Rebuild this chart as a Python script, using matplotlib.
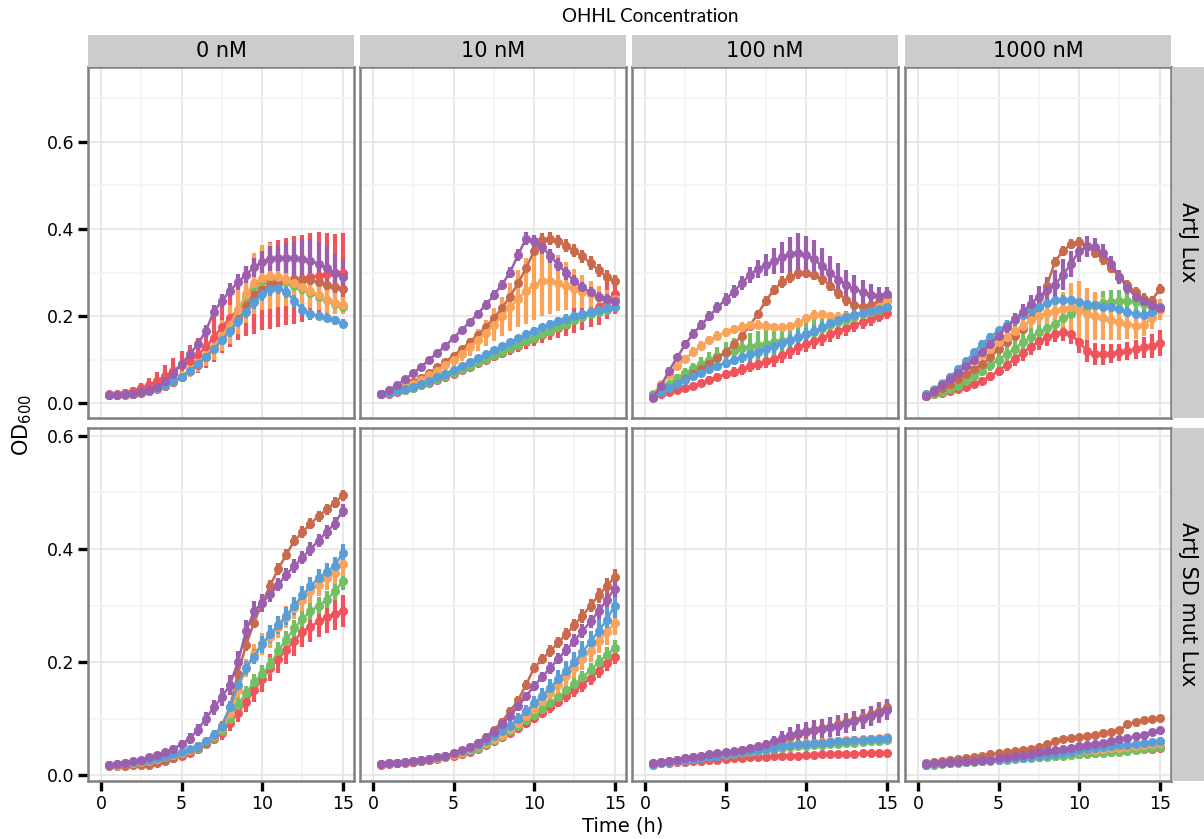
import numpy as np
import matplotlib.pyplot as plt

plt.rcParams['font.family'] = ['DejaVu Sans']
plt.rcParams['mathtext.default'] = 'regular'

# -----------------------------
# Data: OD600 read every 30 min, mean and error (error in 1/1000 OD)
# -----------------------------

time_h = np.arange(0.5, 15.01, 0.5)

conc_labels = ["0 nM", "10 nM", "100 nM", "1000 nM"]
strain_labels = ["ArtJ Lux", "ArtJ SD mut Lux"]

colours = {
    "red": "#EF535B",
    "brown": "#C96A4C",
    "orange": "#FAA45A",
    "green": "#73BF63",
    "blue": "#5A9ED8",
    "purple": "#9B5FAE",
}
draw_order = ["red", "green", "brown", "orange", "blue", "purple"]

# ArtJ Lux
lux_0nM = dict(
    red=[.020, .021, .024, .028, .034, .042, .052, .063, .075, .087, .098, .11, .13, .15, .175, .195, .215, .235, .25, .262, .27, .275, .28, .283, .286, .29, .293, .296, .298, .30],
    brown=[.018, .018, .019, .021, .024, .028, .033, .040, .049, .060, .073, .088, .106, .126, .148, .172, .196, .22, .242, .26, .272, .28, .284, .285, .284, .282, .278, .272, .266, .262],
    orange=[.018, .019, .020, .022, .025, .029, .034, .041, .050, .062, .076, .092, .11, .13, .155, .18, .215, .25, .275, .288, .292, .29, .284, .275, .266, .258, .248, .238, .23, .225],
    green=[.018, .019, .020, .022, .025, .029, .034, .040, .049, .060, .074, .090, .108, .128, .152, .177, .21, .243, .268, .28, .285, .283, .278, .27, .262, .254, .245, .236, .228, .222],
    blue=[.018, .019, .020, .022, .025, .029, .034, .041, .050, .061, .074, .089, .106, .125, .145, .166, .188, .21, .232, .25, .262, .265, .255, .235, .215, .205, .200, .196, .19, .183],
    purple=[.018, .019, .020, .022, .025, .030, .038, .050, .068, .090, .112, .135, .165, .21, .235, .258, .278, .295, .312, .325, .332, .334, .334, .333, .331, .327, .320, .310, .298, .290],
)
lux_0nM_err = dict(
    red=[5, 6, 8, 10, 13, 16, 20, 24, 28, 32, 35, 40, 50, 55, 60, 65, 70, 80, 90, 95, 100, 100, 100, 100, 100, 100, 100, 95, 90, 90],
    brown=[3, 3, 3, 4, 4, 5, 5, 6, 6, 7, 8, 9, 10, 11, 12, 13, 14, 15, 15, 16, 16, 16, 16, 16, 16, 16, 16, 16, 16, 16],
    orange=[3, 3, 4, 4, 5, 6, 7, 8, 10, 12, 15, 20, 25, 30, 35, 45, 55, 65, 70, 75, 75, 70, 60, 50, 45, 40, 35, 30, 25, 20],
    green=[3, 3, 3, 4, 4, 5, 5, 6, 6, 7, 8, 9, 10, 10, 10, 10, 10, 10, 10, 10, 10, 10, 10, 10, 10, 10, 10, 10, 10, 10],
    blue=[3, 3, 3, 4, 4, 5, 5, 6, 6, 7, 8, 9, 10, 11, 12, 13, 14, 15, 15, 15, 15, 15, 14, 13, 12, 11, 10, 10, 10, 10],
    purple=[4, 4, 4, 5, 5, 6, 6, 7, 8, 9, 10, 12, 13, 15, 15, 17, 18, 20, 22, 25, 28, 30, 35, 40, 45, 50, 50, 50, 45, 40],
)

lux_10nM = dict(
    red=[.02, .022, .026, .03, .035, .041, .047, .054, .061, .068, .076, .084, .092, .1, .108, .116, .124, .132, .14, .148, .156, .164, .172, .18, .19, .2, .21, .22, .235, .25],
    brown=[.02, .025, .032, .04, .049, .059, .07, .082, .095, .109, .124, .14, .157, .175, .195, .218, .245, .275, .31, .35, .375, .378, .372, .362, .35, .337, .322, .305, .29, .28],
    orange=[.02, .024, .03, .037, .045, .054, .064, .075, .087, .1, .114, .129, .145, .162, .18, .2, .22, .24, .258, .272, .28, .28, .276, .27, .263, .256, .25, .245, .24, .24],
    green=[.02, .023, .027, .031, .036, .042, .048, .055, .062, .07, .078, .086, .094, .102, .11, .118, .126, .134, .142, .15, .158, .166, .174, .182, .19, .197, .204, .21, .215, .22],
    blue=[.02, .023, .027, .032, .038, .045, .052, .06, .068, .077, .086, .095, .104, .113, .122, .131, .14, .149, .158, .166, .174, .181, .188, .194, .2, .205, .21, .214, .218, .222],
    purple=[.02, .03, .042, .055, .069, .084, .1, .116, .132, .15, .168, .186, .205, .226, .248, .272, .3, .34, .378, .372, .358, .338, .318, .298, .28, .266, .255, .245, .24, .235],
)
lux_10nM_err = dict(
    red=[3, 3, 4, 4, 5, 5, 6, 6, 7, 7, 8, 8, 9, 10, 11, 12, 13, 14, 15, 16, 18, 20, 22, 25, 28, 32, 36, 40, 42, 45],
    brown=[3, 3, 3, 4, 4, 5, 5, 6, 6, 7, 7, 8, 8, 9, 9, 10, 11, 12, 13, 14, 15, 15, 15, 15, 15, 15, 15, 15, 15, 15],
    orange=[3, 3, 4, 5, 6, 7, 8, 10, 12, 14, 17, 20, 25, 30, 38, 45, 55, 65, 75, 80, 80, 75, 65, 55, 45, 38, 30, 25, 20, 18],
    green=[3, 3, 3, 4, 4, 4, 5, 5, 5, 6, 6, 6, 7, 7, 7, 8, 8, 8, 9, 9, 9, 10, 10, 10, 10, 10, 10, 10, 10, 10],
    blue=[3, 3, 3, 4, 4, 4, 5, 5, 5, 6, 6, 6, 7, 7, 7, 8, 8, 8, 9, 9, 9, 10, 10, 10, 10, 10, 10, 10, 10, 10],
    purple=[3, 3, 4, 4, 5, 5, 6, 6, 7, 7, 8, 8, 9, 10, 11, 12, 13, 14, 15, 15, 15, 15, 15, 15, 14, 13, 12, 11, 10, 10],
)

lux_100nM = dict(
    red=[.015, .02, .025, .03, .035, .04, .046, .053, .06, .066, .072, .078, .085, .091, .096, .101, .11, .12, .128, .135, .142, .15, .159, .166, .173, .18, .186, .193, .2, .207],
    brown=[.015, .025, .035, .045, .055, .066, .078, .09, .103, .118, .135, .155, .178, .205, .235, .26, .278, .29, .298, .3, .295, .285, .27, .252, .236, .226, .222, .225, .233, .243],
    orange=[.02, .045, .065, .085, .102, .118, .132, .145, .155, .163, .17, .176, .179, .18, .178, .175, .175, .177, .185, .195, .203, .204, .2, .199, .2, .202, .206, .212, .222, .234],
    green=[.02, .032, .045, .058, .07, .08, .09, .1, .108, .115, .121, .126, .13, .133, .137, .14, .143, .146, .152, .158, .164, .172, .18, .186, .192, .198, .204, .21, .215, .22],
    blue=[.018, .025, .035, .045, .054, .062, .07, .078, .086, .093, .1, .106, .112, .118, .124, .131, .138, .145, .152, .158, .165, .174, .184, .192, .198, .203, .208, .212, .216, .22],
    purple=[.012, .04, .075, .105, .135, .16, .18, .20, .22, .238, .256, .275, .295, .308, .318, .326, .335, .342, .345, .34, .33, .315, .298, .284, .272, .262, .255, .249, .247, .25],
)
lux_100nM_err = dict(
    red=[4, 4, 5, 5, 6, 7, 8, 9, 10, 11, 12, 13, 14, 15, 16, 17, 18, 18, 18, 18, 18, 18, 18, 18, 18, 17, 16, 15, 14, 13],
    brown=[4, 4, 4, 5, 5, 5, 6, 6, 6, 7, 7, 8, 9, 10, 11, 12, 13, 13, 13, 13, 13, 13, 13, 12, 12, 11, 11, 10, 10, 10],
    orange=[5, 6, 7, 8, 9, 10, 10, 10, 10, 10, 10, 10, 10, 10, 10, 10, 10, 10, 10, 10, 10, 10, 10, 10, 10, 10, 10, 10, 10, 10],
    green=[4, 5, 6, 8, 10, 12, 15, 18, 22, 25, 28, 30, 32, 33, 34, 34, 34, 34, 33, 32, 30, 28, 25, 22, 20, 18, 16, 14, 12, 10],
    blue=[4, 4, 5, 6, 7, 8, 9, 10, 11, 12, 13, 14, 15, 15, 15, 15, 15, 15, 15, 15, 14, 13, 12, 12, 11, 11, 10, 10, 10, 10],
    purple=[6, 7, 8, 9, 10, 10, 11, 12, 13, 14, 15, 16, 18, 20, 25, 30, 35, 40, 45, 45, 45, 42, 40, 38, 35, 32, 28, 24, 20, 16],
)

lux_1000nM = dict(
    red=[.016, .02, .024, .028, .032, .038, .045, .052, .062, .075, .088, .102, .116, .13, .142, .152, .16, .163, .158, .14, .12, .113, .112, .114, .117, .12, .124, .128, .132, .138],
    brown=[.016, .025, .035, .045, .056, .066, .078, .09, .105, .125, .14, .155, .17, .195, .22, .27, .325, .35, .365, .37, .36, .345, .33, .31, .29, .272, .255, .24, .235, .262],
    orange=[.02, .032, .046, .06, .072, .085, .097, .11, .125, .14, .153, .165, .178, .19, .2, .207, .212, .216, .22, .215, .205, .2, .195, .19, .186, .182, .178, .18, .195, .215],
    green=[.018, .022, .026, .032, .04, .05, .062, .075, .088, .1, .113, .125, .14, .152, .163, .172, .182, .195, .205, .214, .22, .225, .23, .232, .234, .235, .233, .228, .222, .216],
    blue=[.02, .03, .045, .06, .078, .097, .117, .137, .152, .167, .18, .192, .203, .213, .222, .23, .236, .238, .236, .232, .228, .225, .222, .22, .216, .21, .205, .203, .21, .22],
    purple=[.016, .028, .042, .056, .07, .085, .1, .118, .136, .155, .175, .193, .21, .228, .245, .26, .272, .295, .32, .35, .36, .358, .345, .32, .29, .265, .245, .235, .225, .218],
)
lux_1000nM_err = dict(
    red=[4, 4, 5, 5, 6, 7, 8, 9, 10, 12, 14, 16, 18, 20, 20, 20, 20, 20, 22, 24, 25, 25, 24, 22, 20, 20, 22, 25, 28, 30],
    brown=[4, 4, 4, 5, 5, 6, 6, 7, 7, 8, 8, 9, 9, 10, 10, 11, 11, 12, 12, 12, 12, 12, 12, 12, 12, 12, 12, 12, 12, 12],
    orange=[5, 5, 6, 7, 8, 9, 10, 11, 12, 13, 14, 15, 16, 18, 20, 25, 30, 40, 55, 65, 60, 55, 50, 45, 40, 35, 30, 25, 25, 25],
    green=[4, 4, 5, 6, 7, 8, 10, 12, 14, 16, 18, 20, 22, 24, 25, 26, 27, 28, 28, 28, 28, 28, 28, 27, 26, 25, 24, 22, 20, 18],
    blue=[5, 5, 6, 6, 7, 7, 8, 8, 9, 9, 10, 10, 10, 10, 10, 10, 10, 10, 10, 10, 10, 10, 10, 10, 10, 10, 10, 10, 10, 10],
    purple=[5, 5, 6, 7, 8, 9, 10, 11, 12, 13, 14, 15, 17, 20, 25, 30, 35, 35, 30, 25, 25, 22, 20, 18, 16, 15, 14, 13, 12, 12],
)

# ArtJ SD mut Lux
mut_0nM = dict(
    red=[.018, .018, .019, .02, .021, .023, .025, .028, .031, .035, .04, .046, .055, .065, .075, .093, .11, .13, .15, .17, .19, .206, .222, .238, .254, .263, .272, .28, .285, .29],
    brown=[.016, .017, .017, .018, .018, .019, .022, .026, .031, .037, .043, .05, .057, .068, .088, .12, .18, .23, .27, .305, .335, .365, .39, .415, .43, .445, .458, .47, .482, .495],
    orange=[.018, .019, .021, .022, .024, .026, .029, .032, .036, .04, .045, .052, .06, .07, .083, .11, .15, .19, .215, .232, .245, .262, .28, .296, .31, .325, .337, .348, .358, .373],
    green=[.018, .019, .02, .022, .024, .026, .028, .031, .034, .038, .043, .049, .056, .066, .078, .1, .125, .145, .165, .18, .195, .22, .24, .26, .277, .29, .3, .31, .325, .343],
    blue=[.018, .02, .021, .023, .025, .027, .03, .033, .037, .041, .046, .052, .06, .072, .085, .12, .16, .19, .21, .232, .25, .266, .282, .3, .318, .335, .348, .36, .37, .393],
    purple=[.018, .02, .022, .025, .028, .032, .036, .041, .047, .055, .065, .08, .1, .12, .138, .16, .2, .255, .29, .305, .32, .337, .355, .37, .385, .4, .415, .43, .445, .468],
)
mut_0nM_err = dict(
    red=[3, 3, 3, 4, 4, 4, 5, 5, 6, 6, 7, 8, 9, 10, 12, 14, 16, 18, 20, 22, 24, 25, 26, 27, 28, 28, 28, 28, 28, 28],
    brown=[3, 3, 3, 3, 3, 4, 4, 4, 5, 5, 5, 6, 6, 7, 8, 9, 10, 10, 10, 10, 10, 10, 10, 10, 10, 10, 10, 10, 10, 10],
    orange=[3, 3, 3, 3, 4, 4, 4, 5, 5, 6, 6, 7, 8, 9, 10, 12, 14, 16, 18, 19, 20, 20, 20, 20, 20, 20, 20, 20, 20, 20],
    green=[3, 3, 3, 3, 4, 4, 4, 5, 5, 6, 6, 7, 8, 9, 10, 11, 12, 13, 14, 15, 15, 15, 15, 15, 15, 15, 15, 15, 15, 15],
    blue=[3, 3, 3, 3, 4, 4, 4, 5, 5, 6, 6, 7, 8, 9, 10, 11, 12, 13, 14, 15, 16, 16, 16, 16, 16, 16, 16, 16, 16, 16],
    purple=[3, 3, 3, 4, 4, 5, 5, 6, 7, 8, 9, 10, 12, 14, 16, 18, 20, 20, 18, 16, 14, 12, 12, 12, 12, 12, 12, 12, 12, 12],
)

mut_10nM = dict(
    red=[.019, .02, .021, .022, .023, .025, .027, .029, .032, .035, .038, .042, .047, .053, .06, .067, .075, .083, .092, .101, .11, .12, .13, .14, .15, .16, .172, .185, .198, .21],
    brown=[.02, .021, .022, .023, .024, .026, .028, .031, .034, .038, .043, .05, .058, .068, .08, .095, .113, .133, .16, .19, .205, .22, .235, .25, .266, .282, .3, .318, .335, .35],
    orange=[.02, .021, .022, .023, .025, .027, .029, .031, .034, .037, .041, .046, .051, .057, .064, .072, .082, .093, .105, .118, .131, .145, .16, .175, .19, .205, .22, .237, .253, .27],
    green=[.02, .021, .022, .023, .024, .026, .028, .03, .033, .036, .04, .044, .049, .055, .062, .07, .078, .087, .097, .107, .117, .128, .139, .15, .161, .173, .186, .2, .213, .225],
    blue=[.02, .021, .022, .023, .025, .027, .029, .032, .035, .039, .043, .048, .054, .061, .069, .078, .088, .1, .113, .127, .141, .155, .17, .185, .2, .218, .236, .255, .275, .3],
    purple=[.02, .021, .022, .023, .025, .027, .029, .032, .035, .039, .044, .05, .057, .066, .077, .09, .105, .122, .14, .158, .174, .19, .206, .222, .238, .255, .272, .29, .31, .33],
)
mut_10nM_err = dict(
    red=[2, 2, 2, 3, 3, 3, 3, 4, 4, 4, 5, 5, 5, 6, 6, 7, 7, 8, 8, 9, 9, 10, 10, 11, 11, 12, 12, 13, 13, 14],
    brown=[2, 2, 2, 3, 3, 3, 3, 4, 4, 4, 5, 5, 5, 6, 6, 7, 7, 8, 8, 9, 9, 10, 10, 11, 11, 12, 12, 13, 13, 14],
    orange=[2, 2, 2, 3, 3, 3, 3, 4, 4, 5, 5, 6, 6, 7, 8, 9, 10, 11, 12, 13, 14, 15, 16, 17, 18, 19, 20, 21, 22, 22],
    green=[2, 2, 2, 3, 3, 3, 3, 4, 4, 4, 5, 5, 5, 6, 6, 7, 7, 8, 8, 9, 9, 10, 10, 11, 11, 12, 12, 13, 13, 14],
    blue=[2, 2, 2, 3, 3, 3, 3, 4, 4, 5, 5, 6, 6, 7, 8, 9, 10, 11, 12, 13, 14, 15, 16, 17, 18, 19, 20, 21, 22, 22],
    purple=[2, 2, 2, 3, 3, 3, 3, 4, 4, 4, 5, 5, 5, 6, 6, 7, 7, 8, 8, 9, 9, 10, 10, 11, 11, 12, 12, 13, 13, 14],
)

mut_100nM = dict(
    red=[.02, .021, .022, .023, .024, .025, .026, .027, .028, .029, .03, .031, .032, .033, .033, .034, .034, .035, .035, .036, .036, .037, .037, .038, .038, .038, .039, .039, .04, .04],
    brown=[.022, .024, .026, .028, .03, .032, .034, .036, .038, .04, .042, .044, .047, .05, .054, .058, .063, .068, .073, .077, .08, .083, .086, .09, .094, .098, .103, .108, .114, .12],
    orange=[.02, .022, .024, .026, .028, .03, .032, .034, .036, .038, .04, .042, .044, .046, .048, .05, .052, .054, .056, .057, .058, .059, .06, .061, .062, .063, .064, .065, .066, .067],
    green=[.02, .022, .024, .026, .027, .029, .031, .033, .035, .036, .038, .04, .042, .043, .045, .047, .048, .05, .051, .052, .053, .054, .055, .056, .057, .058, .059, .06, .061, .062],
    blue=[.019, .021, .023, .025, .027, .029, .031, .033, .035, .037, .039, .041, .043, .045, .047, .049, .051, .053, .055, .056, .057, .058, .059, .06, .061, .062, .063, .064, .065, .066],
    purple=[.022, .024, .026, .028, .03, .033, .035, .037, .039, .041, .043, .045, .048, .051, .055, .06, .066, .071, .075, .078, .08, .082, .085, .088, .092, .096, .1, .105, .11, .115],
)
mut_100nM_err = dict(
    red=[3, 3, 3, 3, 3, 3, 3, 3, 3, 3, 3, 3, 3, 3, 3, 3, 3, 3, 3, 3, 3, 3, 3, 3, 3, 3, 3, 3, 3, 3],
    brown=[3, 3, 3, 3, 3, 3, 3, 3, 4, 4, 4, 4, 4, 5, 5, 6, 6, 7, 8, 9, 10, 11, 12, 13, 14, 15, 15, 15, 15, 15],
    orange=[3, 3, 3, 3, 3, 3, 3, 3, 3, 3, 4, 4, 4, 4, 4, 4, 5, 5, 5, 5, 5, 5, 6, 6, 6, 6, 6, 6, 6, 6],
    green=[3, 3, 3, 3, 3, 3, 3, 3, 3, 3, 4, 4, 4, 4, 4, 4, 5, 5, 5, 5, 5, 5, 6, 6, 6, 6, 6, 6, 6, 6],
    blue=[3, 3, 3, 3, 3, 3, 3, 3, 3, 3, 4, 4, 4, 4, 4, 4, 5, 5, 5, 5, 5, 5, 6, 6, 6, 6, 6, 6, 6, 6],
    purple=[3, 3, 3, 3, 3, 3, 4, 4, 4, 4, 5, 5, 6, 7, 8, 10, 12, 14, 15, 16, 17, 18, 18, 18, 18, 18, 18, 18, 18, 18],
)

mut_1000nM = dict(
    red=[.019, .02, .021, .022, .023, .024, .025, .026, .027, .028, .029, .03, .031, .032, .033, .034, .035, .036, .037, .038, .039, .04, .041, .042, .043, .044, .045, .046, .047, .048],
    brown=[.021, .023, .025, .027, .029, .031, .033, .035, .037, .039, .041, .043, .045, .047, .05, .055, .06, .064, .066, .068, .07, .072, .074, .077, .08, .09, .094, .097, .099, .101],
    orange=[.019, .02, .021, .022, .023, .024, .025, .026, .027, .028, .029, .03, .031, .032, .034, .036, .038, .04, .041, .043, .044, .045, .046, .048, .049, .05, .052, .053, .055, .057],
    green=[.018, .019, .02, .021, .022, .023, .024, .025, .026, .027, .028, .029, .03, .031, .032, .033, .034, .035, .036, .037, .038, .039, .04, .041, .042, .043, .045, .046, .048, .05],
    blue=[.019, .02, .021, .022, .023, .024, .025, .026, .027, .028, .029, .03, .031, .032, .034, .036, .038, .04, .042, .044, .046, .048, .05, .051, .053, .054, .056, .057, .059, .06],
    purple=[.02, .021, .022, .023, .024, .025, .026, .027, .028, .03, .032, .034, .036, .038, .041, .043, .045, .047, .049, .051, .053, .055, .058, .061, .064, .066, .069, .072, .076, .08],
)
mut_1000nM_err = dict(
    red=[3, 3, 3, 3, 3, 3, 3, 3, 3, 3, 3, 3, 3, 3, 3, 3, 3, 3, 3, 3, 3, 3, 3, 3, 3, 3, 3, 3, 3, 3],
    brown=[3, 3, 3, 3, 3, 3, 3, 3, 3, 3, 3, 3, 3, 3, 4, 4, 4, 4, 4, 4, 4, 4, 4, 4, 5, 5, 5, 5, 5, 5],
    orange=[3, 3, 3, 3, 3, 3, 3, 3, 3, 3, 3, 3, 3, 3, 4, 4, 4, 4, 4, 4, 4, 4, 4, 4, 5, 5, 5, 5, 5, 5],
    green=[3, 3, 3, 3, 3, 3, 3, 3, 3, 3, 3, 3, 3, 3, 3, 3, 3, 3, 3, 3, 4, 4, 4, 4, 4, 4, 4, 4, 4, 4],
    blue=[3, 3, 3, 3, 3, 3, 3, 3, 3, 3, 3, 3, 3, 3, 3, 3, 3, 3, 3, 3, 4, 4, 4, 4, 4, 4, 4, 4, 4, 4],
    purple=[3, 3, 3, 3, 3, 3, 3, 3, 3, 3, 3, 3, 3, 3, 4, 4, 4, 4, 4, 4, 5, 5, 5, 5, 5, 5, 5, 5, 5, 5],
)

means = [[lux_0nM, lux_10nM, lux_100nM, lux_1000nM],
         [mut_0nM, mut_10nM, mut_100nM, mut_1000nM]]
errors = [[lux_0nM_err, lux_10nM_err, lux_100nM_err, lux_1000nM_err],
          [mut_0nM_err, mut_10nM_err, mut_100nM_err, mut_1000nM_err]]

# -----------------------------
# Layout (pixels of a 1204 x 839 canvas)
# -----------------------------

W, H = 1204, 839
fig = plt.figure(figsize=(W / 100, H / 100), dpi=100)

col_left = [88, 360, 632, 905]
panel_w = 266
row_top = [67, 428]
row_h = [351, 353]
ylims = [(-0.034, 0.772), (-0.01, 0.614)]
strip_grey = "#CCCCCC"
border_grey = "#7F7F7F"


def px_axes(left, top, width, height):
    return fig.add_axes([left / W, 1 - (top + height) / H, width / W, height / H])


for r in range(2):
    for c in range(4):
        ax = px_axes(col_left[c], row_top[r], panel_w, row_h[r])
        ax.set_xticks([0, 5, 10, 15])
        ax.set_xticks([2.5, 7.5, 12.5], minor=True)
        ax.set_yticks([0.0, 0.2, 0.4, 0.6])
        ax.set_yticks([0.1, 0.3, 0.5, 0.7], minor=True)
        ax.set_yticklabels(["0.0", "0.2", "0.4", "0.6"])
        ax.set_xlim(-0.8, 15.7)
        ax.set_ylim(*ylims[r])
        ax.grid(which="major", color="#E5E5E5", lw=1.2)
        ax.grid(which="minor", color="#F4F4F4", lw=1.2)
        ax.set_axisbelow(True)
        for s in ax.spines.values():
            s.set_color(border_grey)
            s.set_linewidth(1.8)

        ax.tick_params(which="minor", length=0)
        ax.tick_params(which="major", length=7, width=2.4, color="black",
                       labelsize=12.5, pad=3)
        if c != 0:
            ax.tick_params(axis="y", length=0, labelleft=False)
        if r != 1:
            ax.tick_params(axis="x", length=0, labelbottom=False)

        panel = means[r][c]
        panel_err = errors[r][c]
        for name in draw_order:
            y = np.array(panel[name])
            e = np.array(panel_err[name]) / 1000
            ax.errorbar(time_h, y, yerr=e, color=colours[name], lw=1.8,
                        marker="o", ms=5.5, elinewidth=3, capsize=0,
                        clip_on=False, zorder=3)

# facet strips
for c in range(4):
    sax = px_axes(col_left[c], 35, panel_w, 32)
    sax.set_facecolor(strip_grey)
    sax.set_xticks([])
    sax.set_yticks([])
    for s in sax.spines.values():
        s.set_visible(False)
    sax.text(0.5, 0.5, conc_labels[c], ha="center", va="center",
             fontsize=15, transform=sax.transAxes)

for r in range(2):
    sax = px_axes(1172, row_top[r], 32, row_h[r])
    sax.set_facecolor(strip_grey)
    sax.set_xticks([])
    sax.set_yticks([])
    for s in sax.spines.values():
        s.set_visible(False)
    sax.text(0.5, 0.5, strain_labels[r], ha="center", va="center",
             rotation=-90, fontsize=15, transform=sax.transAxes)

fig.text(650 / W, 1 - 17 / H, "OHHL Concentration", ha="center", va="center",
         fontsize=13.5, family=["Lato", "DejaVu Sans"])
fig.text(623 / W, 1 - 826 / H, "Time (h)", ha="center", va="center", fontsize=14)
fig.text(22 / W, 1 - 425 / H, "OD$_{600}$", ha="center", va="center",
         rotation=90, fontsize=15)

fig.savefig("out.png", dpi=100)
